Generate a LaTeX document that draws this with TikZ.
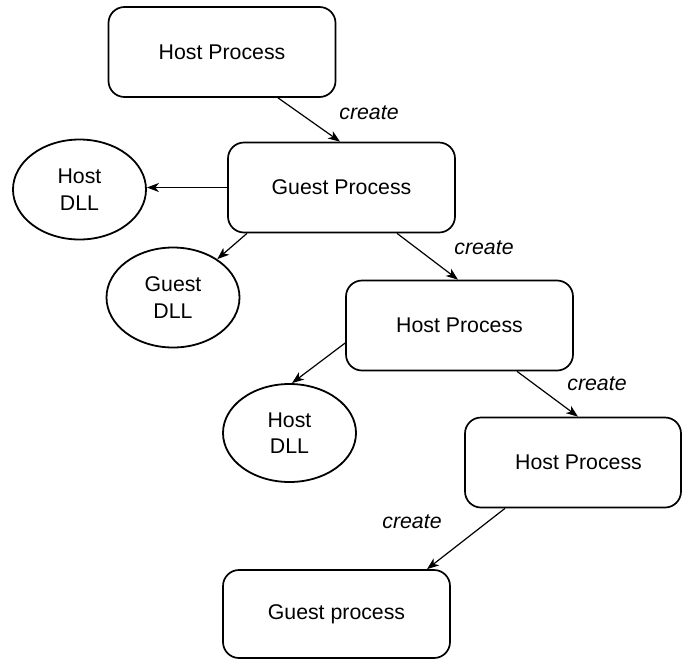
\documentclass[tikz,border=0pt]{standalone}
\usepackage{fontspec}
\setmainfont{Liberation Sans}
\usetikzlibrary{shapes.geometric,arrows.meta}
\begin{document}
\begin{tikzpicture}[x=1pt,y=-1pt,
  every node/.style={font=\fontsize{21.3}{26.5}\selectfont},
  procbox/.style={draw, line width=1.7pt, rounded corners=16pt, minimum width=227pt, minimum height=90pt, inner sep=0pt},
  dllnode/.style={draw, ellipse, line width=1.8pt, minimum width=133pt, minimum height=100pt, inner sep=0pt, align=center},
  conn/.style={line width=1.2pt, -{Stealth[length=12pt,width=9pt,inset=3.5pt]}},
  lbl/.style={font=\fontsize{21.3}{24}\selectfont\itshape, inner sep=0pt}]
\useasboundingbox (0,0) rectangle (682,659);

\node[procbox] (hp1) at (222,52) {Host Process};
\node[procbox] (gp1) at (341.5,187.5) {Guest Process};
\node[procbox] (hp2) at (459.5,325.5) {Host Process};
\node[procbox, minimum width=216pt] (hp3) at (573,462.5) {\hspace*{11pt}Host Process};
\node[procbox, minimum height=88pt] (gp2) at (336.5,614) {Guest process};

\node[dllnode] (hd1) at (79.5,189.5) {Host\\DLL};
\node[dllnode] (gd1) at (173,297.5) {Guest\\DLL};
\node[dllnode, minimum height=98pt] (hd2) at (289.5,433) {Host\\DLL};

\draw[conn] ([xshift=56pt]hp1.south) -- ([xshift=-1.5pt]gp1.north);
\draw[conn] (gp1.west) -- (gp1.west -| hd1.east);
\draw[conn] ([xshift=-94.5pt]gp1.south) -- (gd1);
\draw[conn] ([xshift=55.5pt]gp1.south) -- ([xshift=-1.5pt]hp2.north);
\draw[conn] ([yshift=-17.5pt]hp2.west) -- ([xshift=2.5pt]hd2.north);
\draw[conn] ([xshift=57.5pt]hp2.south) -- ([xshift=5pt]hp3.north);
\draw[conn] ([xshift=-68pt]hp3.south) -- ([xshift=90.5pt]gp2.north);

\node[lbl] (c1) at (369,113) {create};
\node[lbl] (c2) at (484,248) {create};
\node[lbl] (c3) at (597,384) {create};
\node[lbl] (c4) at (412,522) {create};
\end{tikzpicture}
\end{document}
